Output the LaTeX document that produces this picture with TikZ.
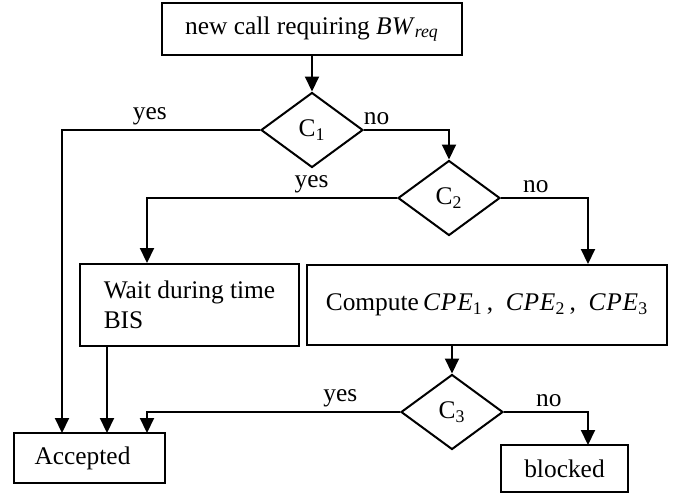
\documentclass[tikz,border=0pt]{standalone}
\usepackage{fontspec}
\setmainfont{Liberation Serif}
\usepackage{tikz}
\usetikzlibrary{arrows.meta,shapes}
\newcommand{\linew}{1pt}
\newcommand{\txtfont}{\fontsize{12.7}{15}\selectfont}
\newcommand{\cpe}[1]{\textit{C\kern0.4pt P\kern0.4pt E}\textsubscript{#1}}

\begin{document}
\begin{tikzpicture}[x=0.5pt,y=-0.5pt]
    %\draw[help lines] (0,0) grid (682,495);
        \tikzset{box/.style = {draw, rectangle, line width=\linew, inner sep=0pt, font=\txtfont}}
        \tikzset{test/.style = {draw, diamond, line width=\linew, shape aspect=1.36, inner sep=0pt,
                 minimum width=51pt, minimum height=37.5pt, font=\txtfont}}
        \tikzset{flow/.style = {line width=\linew, -{Triangle[length=7.5pt,width=7pt]}}}
        \tikzset{lab/.style = {above, inner sep=2pt, font=\txtfont}}
        \useasboundingbox (0,0) rectangle (682,495);
        \node[box, minimum width=150pt, minimum height=26pt] (call) at (312,29) {new call requiring \textit{BW}\textsubscript{\textit{req}}};
        \node[test] (c1) at (312,130) {C\textsubscript{1}};
        \node[test] (c2) at (449,198) {C\textsubscript{2}};
        \node[test] (c3) at (452,412) {C\textsubscript{3}};
        \node[box, align=left, minimum width=109.5pt, minimum height=41pt] (wait) at (189.5,305) {Wait during time\\BIS};
        \node[box, minimum width=180pt, minimum height=40pt] (comp) at (487,305) {Compute\,\cpe{1}\,,\enspace\cpe{2}\,,\enspace\cpe{3}};
        \node[box, minimum width=75.5pt, minimum height=25pt] (acc) at (89.5,458) {Accepted\kern7pt};
        \node[box, minimum width=63.5pt, minimum height=23.5pt] (blk) at (564.5,468.5) {blocked};
        \coordinate (a1) at (62,433);
        \coordinate (a2) at (107,433);
        \coordinate (a3) at (147,433);
        \coordinate (b1) at (588,445);
        
        
        \draw[flow] (call) -- (c1);
        \draw[flow] (c1.west) -| node[lab, pos=0.278]{yes} (a1);
        \draw[flow] (c1.east) -| node[lab, pos=0.074]{no} (c2.north);
        \draw[flow] (c2.west) -| node[lab, pos=0.171]{yes} (wait.north -| a3);
        \draw[flow] (c2.east) -| node[lab, pos=0.2]{no} (comp.north -| b1);
        \draw[flow] (wait.south -| a2) -- (a2);
        \draw[flow] (comp.south -| c3) -- (c3.north);
        \draw[flow] (c3.west) -| node[lab, pos=0.118]{yes} (a3);
        \draw[flow] (c3.east) -| node[lab, pos=0.267]{no} (b1);
        
        
    \end{tikzpicture}
\end{document}
